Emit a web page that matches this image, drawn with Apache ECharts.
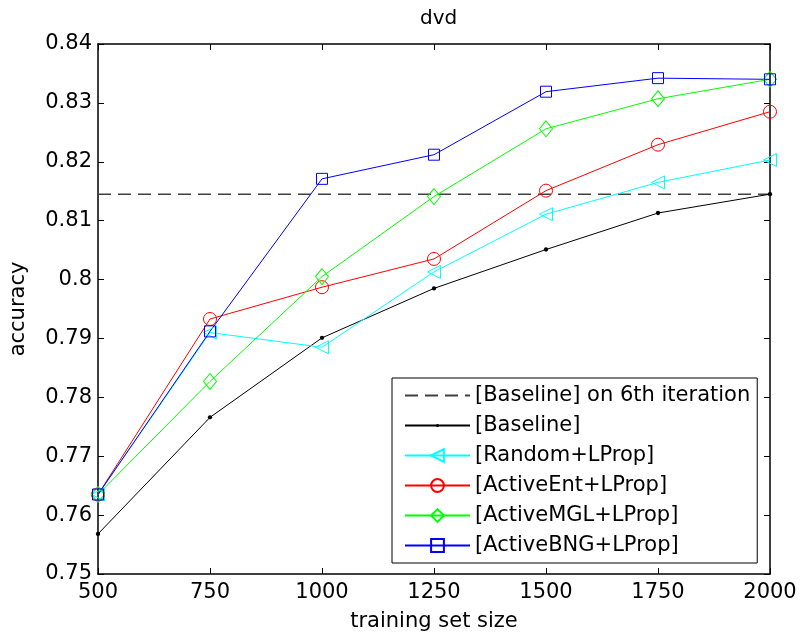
<!DOCTYPE html>
<html>
<head>
<meta charset="utf-8">
<script src="https://cdn.jsdelivr.net/npm/echarts@6/dist/echarts.min.js"></script>
<style>
  html, body { margin: 0; padding: 0; background: #fff; }
  #chart { width: 800px; height: 637px; }
</style>
</head>
<body>
<div id="chart"></div>
<script>
// ---- data ----
const trainingSizes = [500, 750, 1000, 1250, 1500, 1750, 2000];
const baselineSixth = 0.8145;
const baseline   = [0.7568, 0.7766, 0.7901, 0.7985, 0.8051, 0.8113, 0.8145];
const randomLP   = [0.7635, 0.7910, 0.7885, 0.8013, 0.8111, 0.8165, 0.8203];
const activeEnt  = [0.7635, 0.7933, 0.7987, 0.8035, 0.8151, 0.8229, 0.8285];
const activeMGL  = [0.7635, 0.7827, 0.8005, 0.8141, 0.8256, 0.8307, 0.8340];
const activeBNG  = [0.7635, 0.7912, 0.8171, 0.8212, 0.8319, 0.8342, 0.8340];
const seriesNames = [
  '[Baseline] on 6th iteration',
  '[Baseline]',
  '[Random+LProp]',
  '[ActiveEnt+LProp]',
  '[ActiveMGL+LProp]',
  '[ActiveBNG+LProp]'
];
const xTicks = { min: 500, max: 2000, step: 250 };
const yTicks = { min: 0.75, max: 0.84, step: 0.01 };

const FONT = 'DejaVu Sans, Liberation Sans, sans-serif';
const FS = 21;
const pairs = (ys) => trainingSizes.map((x, i) => [x, ys[i]]);
// small dot centred in an invisible 20x20 frame (so legend and plot keep it small)
const DOT = 'path://M0,0M20,20M7.6,10a2.4,2.4 0 1,0 4.8,0a2.4,2.4 0 1,0 -4.8,0Z';

function hollowSeries(name, ys, color, symbol, size, rotate) {
  return {
    name: name,
    type: 'line',
    data: pairs(ys),
    symbol: symbol,
    symbolSize: size,
    symbolRotate: rotate || 0,
    showAllSymbol: true,
    lineStyle: { color: color, width: 1 },
    itemStyle: { color: 'rgba(0,0,0,0)', borderColor: color, borderWidth: 1 },
    emphasis: { disabled: true },
    z: 3
  };
}

const chart = echarts.init(document.getElementById('chart'), null, { renderer: 'canvas' });
const axisCommon = {
  type: 'value',
  axisLine: { show: true, onZero: false, lineStyle: { color: '#000', width: 1.5 } },
  axisTick: { show: true, inside: true, length: 6, lineStyle: { color: '#000', width: 1 } },
  splitLine: { show: false },
  axisLabel: { color: '#000', fontSize: FS, fontFamily: FONT }
};

chart.setOption({
  animation: false,
  backgroundColor: '#fff',
  title: {
    text: 'dvd',
    left: 415,
    top: 4,
    textStyle: { fontSize: 20, fontWeight: 'normal', color: '#000', fontFamily: FONT }
  },
  grid: { left: 98, right: 30, top: 44, bottom: 63, containLabel: false },
  legend: {
    orient: 'vertical',
    left: 392,
    top: 378,
    padding: [7, 7, 7, 12],
    itemGap: 9,
    itemWidth: 65,
    itemHeight: 16,
    backgroundColor: '#fff',
    borderColor: '#000',
    borderWidth: 1,
    borderRadius: 0,
    textStyle: { fontSize: FS, color: '#000', fontFamily: FONT },
    data: seriesNames
  },
  xAxis: [
    Object.assign({}, axisCommon, {
      position: 'bottom',
      min: xTicks.min, max: xTicks.max, interval: xTicks.step,
      name: 'training set size',
      nameLocation: 'middle',
      nameGap: 37,
      nameTextStyle: { fontSize: FS, color: '#000', fontFamily: FONT },
      axisLabel: Object.assign({}, axisCommon.axisLabel, {
        margin: 8,
        formatter: (v) => String(v)
      })
    }),
    Object.assign({}, axisCommon, {
      position: 'top',
      min: xTicks.min, max: xTicks.max, interval: xTicks.step,
      axisLabel: { show: false }
    })
  ],
  yAxis: [
    Object.assign({}, axisCommon, {
      position: 'left',
      min: yTicks.min, max: yTicks.max, interval: yTicks.step,
      name: 'accuracy',
      nameLocation: 'middle',
      nameGap: 69,
      nameTextStyle: { fontSize: FS, color: '#000', fontFamily: FONT },
      axisLabel: Object.assign({}, axisCommon.axisLabel, {
        margin: 6,
        formatter: (v) => String(+v.toFixed(2))
      })
    }),
    Object.assign({}, axisCommon, {
      position: 'right',
      min: yTicks.min, max: yTicks.max, interval: yTicks.step,
      axisLabel: { show: false }
    })
  ],
  series: [
    {
      name: seriesNames[0],
      type: 'line',
      data: [[xTicks.min, baselineSixth], [xTicks.max, baselineSixth]],
      symbol: 'none',
      lineStyle: { color: '#404040', width: 1.5, type: [13, 7] },
      itemStyle: { color: 'rgba(0,0,0,0)', borderWidth: 0 },
      emphasis: { disabled: true },
      z: 2
    },
    {
      name: seriesNames[1],
      type: 'line',
      data: pairs(baseline),
      symbol: DOT,
      symbolSize: 18,
      showAllSymbol: true,
      lineStyle: { color: '#000', width: 1 },
      itemStyle: { color: '#000' },
      emphasis: { disabled: true },
      z: 3
    },
    hollowSeries(seriesNames[2], randomLP, '#00ffff', 'triangle', 13, 90),
    hollowSeries(seriesNames[3], activeEnt, '#ff0000', 'circle', 13),
    hollowSeries(seriesNames[4], activeMGL, '#00ff00', 'diamond', [13, 16]),
    hollowSeries(seriesNames[5], activeBNG, '#0000ff', 'rect', 11)
  ]
});
</script>
</body>
</html>
